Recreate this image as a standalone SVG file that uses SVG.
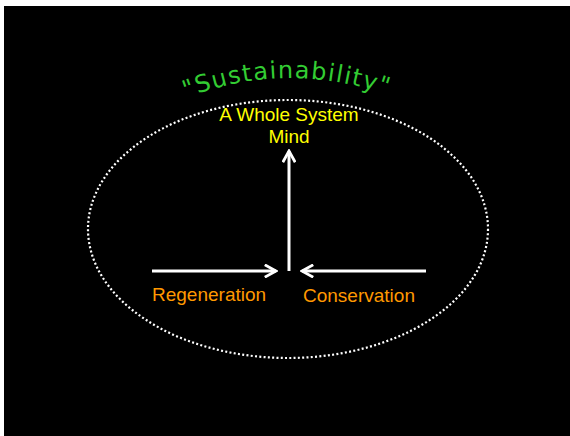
<svg xmlns="http://www.w3.org/2000/svg" width="570" height="436" viewBox="0 0 570 436">
<defs>
<style>
.lbl{font-family:"Liberation Sans",Arial,sans-serif;font-size:19px}
.yel{fill:#ffff00}
.org{fill:#ff9900}
.conn line{stroke:#ffffff;stroke-width:3;fill:none}
</style>
<marker id="ah" viewBox="0 0 14 14" refX="12" refY="7" markerWidth="14" markerHeight="14" markerUnits="userSpaceOnUse" orient="auto">
<path d="M2,1.5 L12,7 L2,12.5" fill="none" stroke="#ffffff" stroke-width="2.8" stroke-linecap="square"/>
</marker>
<path id="arc" d="M186,98 Q289,58 396,98"/>
</defs>
<rect x="0" y="0" width="570" height="436" fill="#ffffff"/>
<rect x="4" y="6" width="566" height="430" fill="#000000"/>
<g id="boundary">
<ellipse cx="288" cy="229" rx="200" ry="129" fill="none" stroke="#ffffff" stroke-width="2.2" stroke-dasharray="2 2.3"/>
</g>
<g id="title">
<text font-family="'DejaVu Sans',Verdana,sans-serif" font-size="24" fill="#33cc33" letter-spacing="0.8" textLength="206"><textPath href="#arc" startOffset="0">"Sustainability"</textPath></text>
</g>
<g id="mind">
<text class="lbl yel" x="289" y="121" text-anchor="middle">A Whole System</text>
<text class="lbl yel" x="289" y="143" text-anchor="middle">Mind</text>
</g>
<g id="regeneration">
<text class="lbl org" x="152" y="301">Regeneration</text>
</g>
<g id="conservation">
<text class="lbl org" x="303" y="302">Conservation</text>
</g>
<g id="connectors" class="conn">
<line x1="289" y1="271" x2="289" y2="151" marker-end="url(#ah)"/>
<line x1="152" y1="271" x2="276" y2="271" marker-end="url(#ah)"/>
<line x1="426" y1="271" x2="302" y2="271" marker-end="url(#ah)"/>
</g>
</svg>
